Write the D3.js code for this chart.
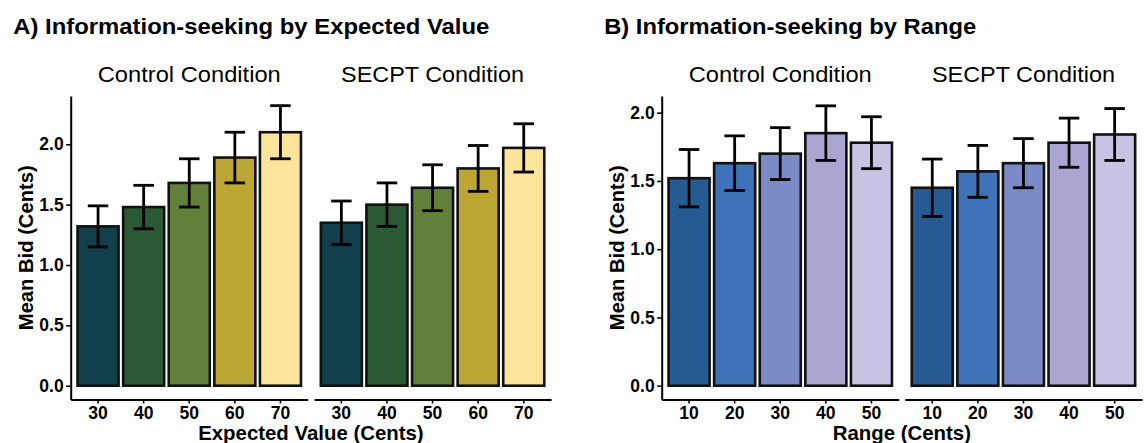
<!DOCTYPE html>
<html>
<head>
<meta charset="utf-8">
<script src="https://cdn.jsdelivr.net/npm/d3@7"></script>
<style>
  html, body { margin: 0; padding: 0; background: #ffffff; }
  svg { display: block; }
  text { font-family: "Liberation Sans", Arial, Helvetica, sans-serif; fill: #000; }
</style>
</head>
<body>
<svg id="chart" width="1146" height="443"></svg>
<script>
// ---------------- data ----------------
const conditions = ["Control Condition", "SECPT Condition"];

const evCategories = ["30", "40", "50", "60", "70"];
const evControlMean = [1.32, 1.48, 1.68, 1.89, 2.10];
const evControlSE   = [0.17, 0.18, 0.20, 0.21, 0.22];
const evSecptMean   = [1.35, 1.50, 1.64, 1.80, 1.97];
const evSecptSE     = [0.18, 0.18, 0.19, 0.19, 0.20];
const evColors = ["#113f4b", "#2c5935", "#62803a", "#bca634", "#fce59b"];

const rangeCategories = ["10", "20", "30", "40", "50"];
const rangeControlMean = [1.52, 1.63, 1.70, 1.85, 1.78];
const rangeControlSE   = [0.21, 0.20, 0.19, 0.20, 0.19];
const rangeSecptMean   = [1.45, 1.57, 1.63, 1.78, 1.84];
const rangeSecptSE     = [0.21, 0.19, 0.18, 0.18, 0.19];
const rangeColors = ["#255a93", "#3f72b8", "#7a8bc6", "#aba5d1", "#c8c3e2"];

const yTicks = [0, 0.5, 1.0, 1.5, 2.0];

// ---------------- layout ----------------
const svg = d3.select("#chart");

const panels = [
  {
    title: "A) Information-seeking by Expected Value",
    titleX: 13.3, titleLen: 476,
    xTitle: "Expected Value (Cents)",
    categories: evCategories,
    colors: evColors,
    series: [
      { mean: evControlMean, se: evControlSE },
      { mean: evSecptMean, se: evSecptSE }
    ],
    facets: [[70.7, 307.8], [314.0, 551.1]],
    yDomain: [-0.1143, 2.400],
    yTitleX: 33
  },
  {
    title: "B) Information-seeking by Range",
    titleX: 604.2, titleLen: 372,
    xTitle: "Range (Cents)",
    categories: rangeCategories,
    colors: rangeColors,
    series: [
      { mean: rangeControlMean, se: rangeControlSE },
      { mean: rangeSecptMean, se: rangeSecptSE }
    ],
    facets: [[661.7, 898.8], [904.9, 1142.0]],
    yDomain: [-0.101, 2.122],
    yTitleX: 623.5
  }
];

const plotTop = 96, plotBottom = 399.5;

panels.forEach(p => {
  const y = d3.scaleLinear().domain(p.yDomain).range([plotBottom, plotTop]);

  // panel title
  svg.append("text")
    .attr("x", p.titleX).attr("y", 33.5)
    .attr("font-size", 22).attr("font-weight", "bold")
    .attr("textLength", p.titleLen).attr("lengthAdjust", "spacingAndGlyphs")
    .text(p.title);

  p.facets.forEach((fr, fi) => {
    const x = d3.scaleBand().domain(p.categories).range(fr)
      .paddingInner(0.1).paddingOuter(0.15);
    const s = p.series[fi];
    const data = p.categories.map((c, i) => ({ c, m: s.mean[i], se: s.se[i], col: p.colors[i] }));
    const g = svg.append("g");

    // strip label
    const cx = (fr[0] + fr[1]) / 2;
    svg.append("text")
      .attr("x", cx).attr("y", 82)
      .attr("text-anchor", "middle")
      .attr("font-size", 22)
      .attr("textLength", 183).attr("lengthAdjust", "spacingAndGlyphs")
      .text(conditions[fi]);

    // bars
    g.selectAll("rect.bar").data(data).enter().append("rect")
      .attr("class", "bar")
      .attr("x", d => x(d.c))
      .attr("width", x.bandwidth())
      .attr("y", d => y(d.m))
      .attr("height", d => y(0) - y(d.m))
      .attr("fill", d => d.col)
      .attr("stroke", "#111")
      .attr("stroke-width", 2.6);

    // error bars
    const capW = x.step() * 0.45;
    const eb = g.selectAll("g.eb").data(data).enter().append("g").attr("class", "eb");
    eb.append("line")
      .attr("x1", d => x(d.c) + x.bandwidth() / 2)
      .attr("x2", d => x(d.c) + x.bandwidth() / 2)
      .attr("y1", d => y(d.m - d.se)).attr("y2", d => y(d.m + d.se))
      .attr("stroke", "#000").attr("stroke-width", 2.8);
    [1, -1].forEach(sign => {
      eb.append("line")
        .attr("x1", d => x(d.c) + x.bandwidth() / 2 - capW / 2)
        .attr("x2", d => x(d.c) + x.bandwidth() / 2 + capW / 2)
        .attr("y1", d => y(d.m + sign * d.se)).attr("y2", d => y(d.m + sign * d.se))
        .attr("stroke", "#000").attr("stroke-width", 2.8);
    });

    // x axis
    const xa = svg.append("g")
      .attr("transform", `translate(0,${plotBottom})`)
      .call(d3.axisBottom(x).tickSize(4).tickSizeOuter(0).tickPadding(3));
    xa.select(".domain").attr("stroke", "#000").attr("stroke-width", 2);
    xa.selectAll(".tick line").attr("stroke", "#000").attr("stroke-width", 1.6);
    xa.selectAll(".tick text")
      .attr("font-size", 17.5).attr("font-weight", "bold")
      .attr("font-family", "Liberation Sans, Arial, sans-serif").attr("fill", "#000");

    // y axis (only first facet)
    if (fi === 0) {
      const ya = svg.append("g")
        .attr("transform", `translate(${fr[0]},0)`)
        .call(d3.axisLeft(y).tickValues(yTicks).tickFormat(d3.format(".1f"))
          .tickSize(4.5).tickSizeOuter(0).tickPadding(2.5));
      ya.select(".domain").attr("stroke", "#000").attr("stroke-width", 2);
      ya.selectAll(".tick line").attr("stroke", "#000").attr("stroke-width", 1.6);
      ya.selectAll(".tick text")
        .attr("font-size", 17.5).attr("font-weight", "bold")
        .attr("font-family", "Liberation Sans, Arial, sans-serif").attr("fill", "#000");
    }
  });

  // x axis title
  const xc = (p.facets[0][0] + p.facets[1][1]) / 2;
  svg.append("text")
    .attr("x", xc).attr("y", 440)
    .attr("text-anchor", "middle")
    .attr("font-size", 20.4).attr("font-weight", "bold")
    .text(p.xTitle);

  // y axis title
  const yc = (plotTop + plotBottom) / 2;
  svg.append("text")
    .attr("transform", `translate(${p.yTitleX},${yc}) rotate(-90)`)
    .attr("text-anchor", "middle")
    .attr("font-size", 20.2).attr("font-weight", "bold")
    .text("Mean Bid (Cents)");
});
</script>
</body>
</html>
